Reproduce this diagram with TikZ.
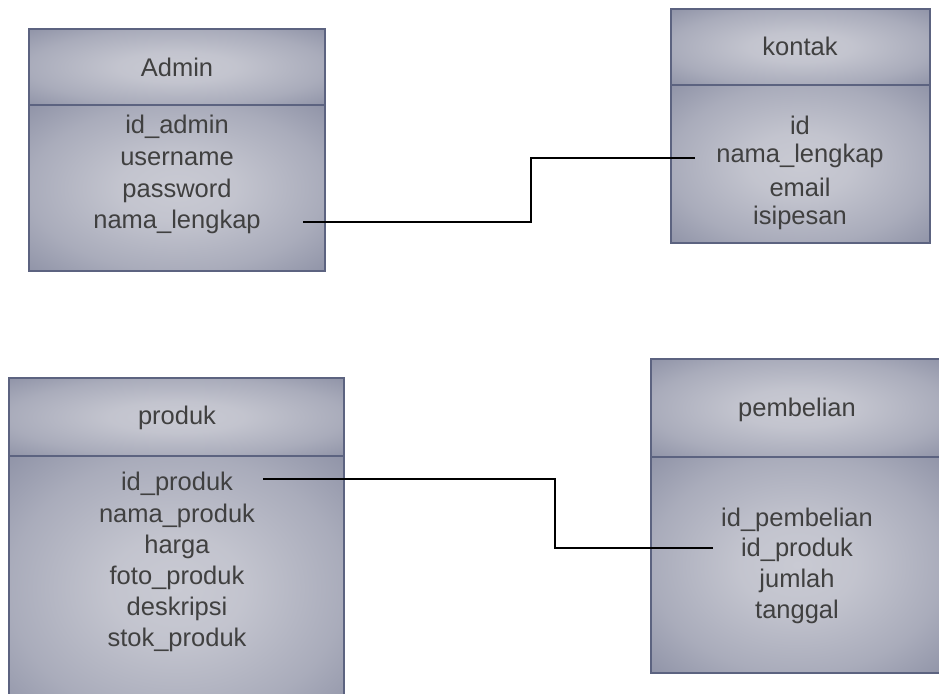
\documentclass[tikz,border=0pt]{standalone}
\usepackage{fontspec}
\setmainfont{Liberation Sans}
\definecolor{boxedge}{HTML}{5C6380}
\definecolor{boxlight}{HTML}{C9CAD3}
\definecolor{boxdark}{HTML}{8A8EA3}
\definecolor{txt}{HTML}{404040}
% soft radial fill for the table compartments
\pgfdeclareradialshading{tablefill}{\pgfpoint{0bp}{0bp}}{%
  color(0bp)=(boxlight);
  color(10bp)=(boxlight!90!boxdark);
  color(25bp)=(boxdark!50!boxlight);
  color(38bp)=(boxdark);
  color(50bp)=(boxdark)}
\begin{document}
\begin{tikzpicture}[x=1pt,y=-1pt,
  compart/.style={draw=boxedge, line width=1.6pt, shading=tablefill},
  title/.style={text=txt, font=\fontsize{25.5}{30}\selectfont, inner sep=0pt},
  field/.style={text=txt, font=\fontsize{25.5}{30}\selectfont, inner sep=0pt},
  link/.style={draw=black, line width=1.8pt}]
\useasboundingbox (0,0) rectangle (939,693);
\clip (0,0) rectangle (939,693);

% Admin table
\path[compart] (29,29) rectangle (325,105);
\path[compart] (29,105) rectangle (325,271);
\node[title] (adm) at (177,67) {Admin};
\node[field] (adm1) at (177,127) {id\_admin};
\node[field] (adm2) at (177,159) {username};
\node[field] (adm3) at (177,191) {password};
\node[field] (adm4) at (177,222) {nama\_lengkap};

% kontak table
\path[compart] (671,9) rectangle (930,85);
\path[compart] (671,85) rectangle (930,243);
\node[title] (kon) at (800,46) {kontak};
\node[field] (kon1) at (800,125) {id};
\node[field] (kon2) at (800,156) {nama\_lengkap};
\node[field] (kon3) at (800,187) {email};
\node[field] (kon4) at (800,218) {isipesan};

% produk table
\path[compart] (9,378) rectangle (344,456);
\path[compart] (9,456) rectangle (344,720);
\node[title] (pro) at (177,418) {produk};
\node[field] (pro1) at (177,484) {id\_produk};
\node[field] (pro2) at (177,516) {nama\_produk};
\node[field] (pro3) at (177,547) {harga};
\node[field] (pro4) at (177,578) {foto\_produk};
\node[field] (pro5) at (177,609) {deskripsi};
\node[field] (pro6) at (177,640) {stok\_produk};

% pembelian table
\path[compart] (651,359) rectangle (944,457);
\path[compart] (651,457) rectangle (944,673);
\node[title] (pem) at (797,410) {pembelian};
\node[field] (pem1) at (797,520) {id\_pembelian};
\node[field] (pem2) at (797,550) {id\_produk};
\node[field] (pem3) at (797,581) {jumlah};
\node[field] (pem4) at (797,612) {tanggal};

% connectors
\coordinate (a1) at (303,222);
\coordinate (a2) at (531,158);
\coordinate (a3) at (695,158);
\draw[link] (a1) -| (a2) -- (a3);

\coordinate (p1) at (263,479);
\coordinate (p2) at (555,548);
\coordinate (p3) at (713,548);
\draw[link] (p1) -| (p2) -- (p3);
\end{tikzpicture}
\end{document}
